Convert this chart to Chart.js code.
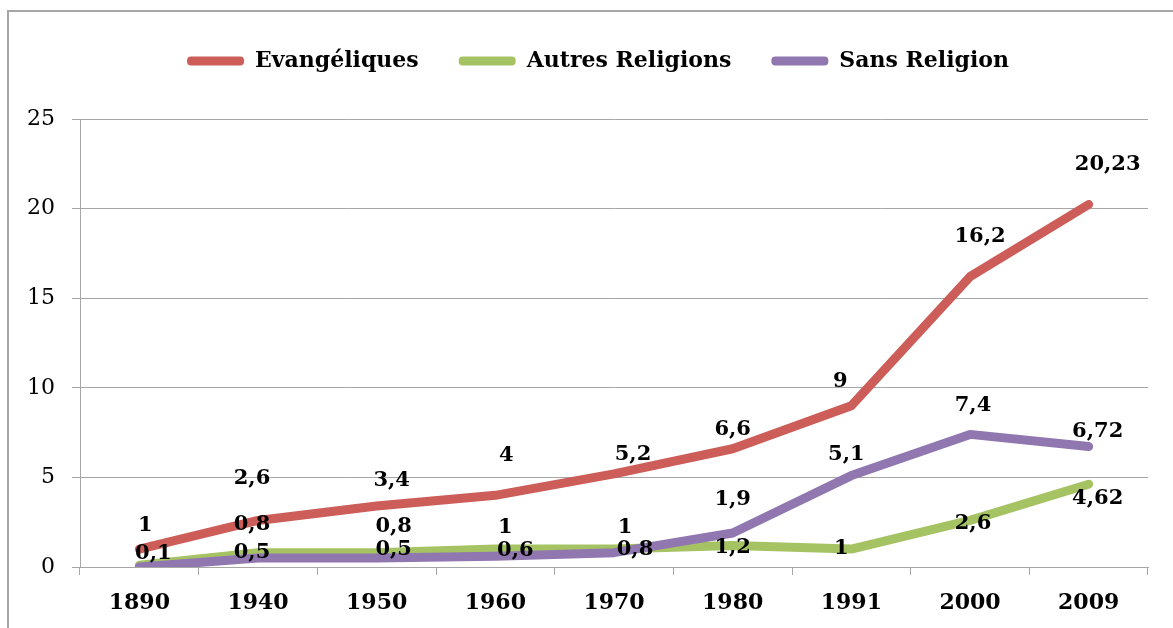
<!DOCTYPE html>
<html lang="fr">
<head>
  <meta charset="UTF-8">
  <title>Évolution des religions</title>
  <script src="https://cdn.jsdelivr.net/npm/chart.js"></script>
  <style>
    body {
      margin: 0;
      background: #ffffff;
      overflow: hidden;
    }
    .frame {
      position: absolute;
      left: 7px;
      top: 10px;
      width: 1200px;
      height: 700px;
      border: 2px solid #a6a6a6;
    }
    .wrap {
      position: absolute;
      left: 0;
      top: 0;
      width: 1173px;
      height: 628px;
    }
  </style>
</head>
<body>
  <div class="frame"></div>
  <div class="wrap"><canvas id="religionChart"></canvas></div>

  <script>
    const years = ['1890', '1940', '1950', '1960', '1970', '1980', '1991', '2000', '2009'];

    // values + where each value label sits relative to its point [dx, dy above]
    const series = [
      {
        label: 'Evangéliques',
        color: '#cd5d58',
        data: [1, 2.6, 3.4, 4, 5.2, 6.6, 9, 16.2, 20.23],
        offsets: [[6, 24], [-6, 42], [15, 26], [11, 40], [19, 19], [0, 19], [-11, 24], [10, 40], [19, 40]]
      },
      {
        label: 'Autres Religions',
        color: '#a6c364',
        data: [0.1, 0.8, 0.8, 1, 1, 1.2, 1, 2.6, 4.62],
        offsets: [[14, 12], [-6, 28], [17, 26], [10, 22], [11, 22], [0, -2], [-10, 1], [3, -3], [9, -14]]
      },
      {
        label: 'Sans Religion',
        color: '#9077b0',
        data: [0, 0.5, 0.5, 0.6, 0.8, 1.9, 5.1, 7.4, 6.72],
        offsets: [null, [-6, 5], [17, 8], [20, 6], [21, 3], [0, 33], [-5, 21], [3, 29], [9, 15]]
      }
    ];

    const valueLabels = {
      id: 'valueLabels',
      beforeInit(chart) {
        // extra room under the legend
        const fit = chart.legend.fit;
        chart.legend.fit = function () {
          fit.bind(this)();
          this.height += 37;
        };
      },
      afterLayout(chart) {
        // legend sits a little right of centre in the original
        chart.legend.left += 24;
        chart.legend.right += 24;
      },
      afterDatasetsDraw(chart) {
        const ctx = chart.ctx;
        ctx.save();
        ctx.font = 'bold 21px "DejaVu Serif"';
        ctx.fillStyle = '#000';
        ctx.textAlign = 'center';
        ctx.textBaseline = 'middle';
        chart.data.datasets.forEach((ds, i) => {
          chart.getDatasetMeta(i).data.forEach((pt, j) => {
            const off = ds.offsets[j];
            if (!off) return;
            const txt = String(ds.data[j]).replace('.', ',');
            ctx.fillText(txt, pt.x + off[0], pt.y - off[1]);
          });
        });
        ctx.restore();
      }
    };

    new Chart(document.getElementById('religionChart'), {
      type: 'line',
      data: {
        labels: years,
        datasets: series.map((s, i) => ({
          label: s.label,
          data: s.data,
          offsets: s.offsets,
          borderColor: s.color,
          backgroundColor: s.color,
          borderWidth: 9,
          borderCapStyle: 'round',
          borderJoinStyle: 'round',
          tension: 0,
          pointRadius: 0,
          order: 3 - i
        }))
      },
      options: {
        responsive: true,
        maintainAspectRatio: false,
        animation: false,
        layout: { padding: { top: 10, right: 25, left: 0, bottom: 0 } },
        plugins: {
          tooltip: { enabled: false },
          legend: {
            position: 'top',
            labels: {
              font: { family: 'DejaVu Serif', size: 22, weight: 'bold' },
              color: '#000',
              boxWidth: 57,
              boxHeight: 9,
              padding: 40,
              useBorderRadius: true,
              borderRadius: 4,
              generateLabels: (chart) => chart.data.datasets.map((d, i) => ({
                text: d.label,
                fillStyle: d.borderColor,
                strokeStyle: d.borderColor,
                lineWidth: 0,
                borderRadius: 4,
                fontColor: '#000',
                datasetIndex: i,
                hidden: false
              }))
            }
          }
        },
        scales: {
          x: {
            offset: true,
            afterFit: (scale) => { scale.height = 61; },
            grid: {
              offset: true,
              drawOnChartArea: false,
              tickLength: 8,
              color: '#a6a6a6'
            },
            border: { color: '#a6a6a6', width: 1 },
            ticks: {
              color: '#000',
              padding: 15,
              font: { family: 'DejaVu Serif', size: 22, weight: 'bold' }
            }
          },
          y: {
            min: 0,
            max: 25,
            afterFit: (scale) => { scale.width = 80; },
            grid: { color: '#a6a6a6', tickLength: 8 },
            border: { color: '#a6a6a6', width: 1 },
            ticks: {
              stepSize: 5,
              color: '#000',
              padding: 17,
              font: { family: 'DejaVu Serif', size: 22 }
            }
          }
        }
      },
      plugins: [valueLabels]
    });
  </script>
</body>
</html>
